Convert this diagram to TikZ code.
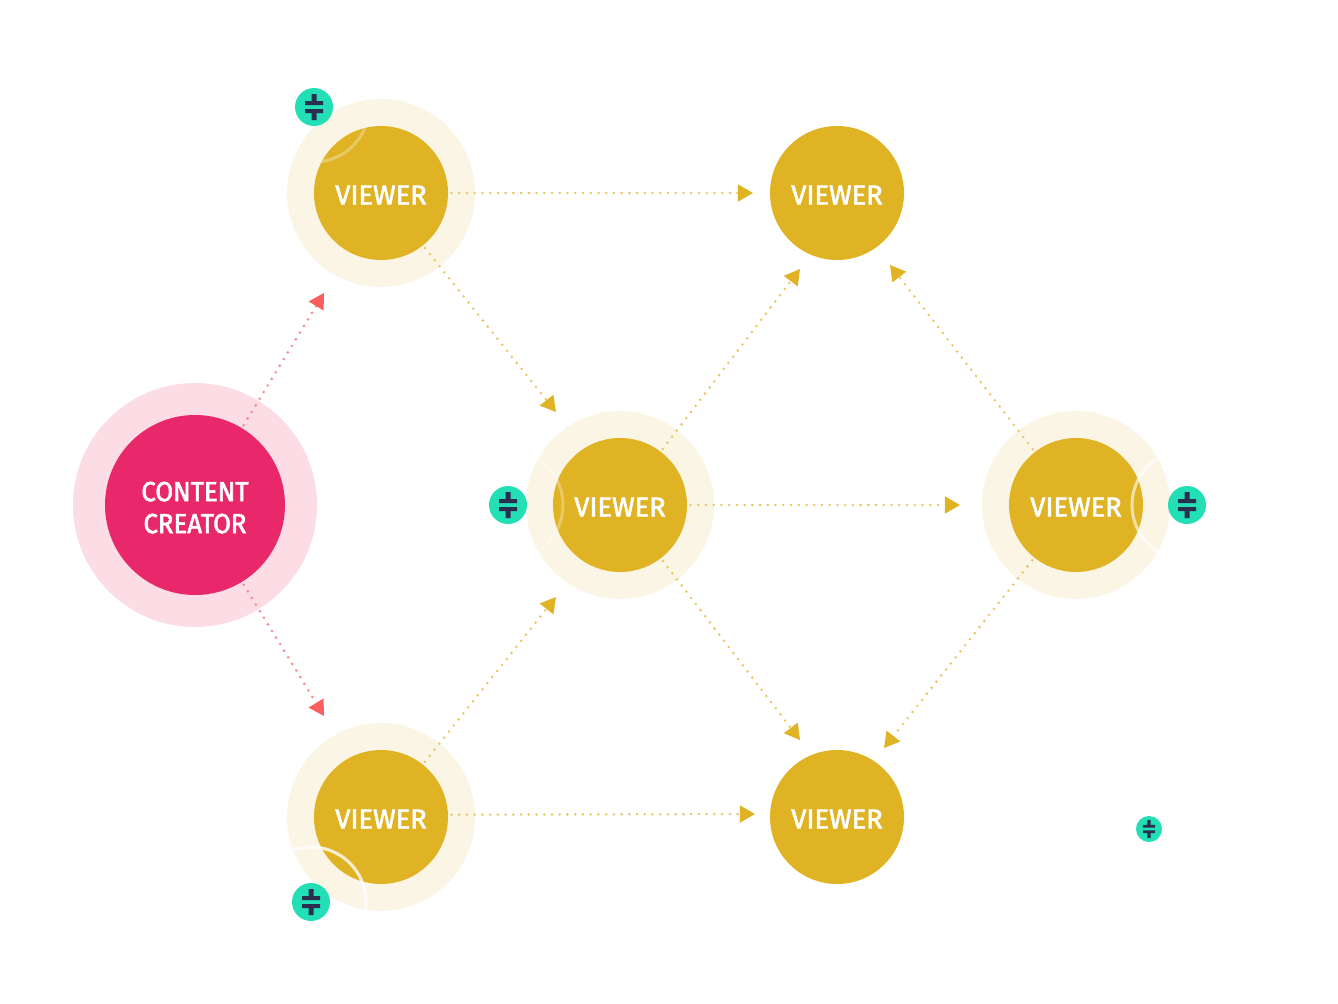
\documentclass[tikz,border=0pt]{standalone}
\usepackage{fontspec}
\setmainfont{Fira Sans}
\newfontfamily\lab[FakeBold=2.2]{Fira Sans}
\newfontfamily\labc[FakeBold=2.2,FakeStretch=0.93]{Fira Sans}
\usetikzlibrary{arrows.meta}
\definecolor{gold}{HTML}{DFB324}
\definecolor{golddot}{HTML}{E9C65E}
\definecolor{goldhalo}{HTML}{FBF5E6}
\definecolor{rose}{HTML}{E8286B}
\definecolor{rosehalo}{HTML}{FCDDE6}
\definecolor{redtip}{HTML}{F8605F}
\definecolor{reddot}{HTML}{F98585}
\definecolor{teal}{HTML}{22DFB6}
\definecolor{navy}{HTML}{2B2F4F}
\newcommand\tokensym[2]{\fill[navy,shift={(#1.center)},scale=#2]
  (-9,-6) rectangle (9,-2) (-9,2) rectangle (9,6)
  (-2.5,-13) rectangle (2.5,-6) (-2.5,6) rectangle (2.5,13);}
\tikzset{
  halo/.style={circle,inner sep=0pt,outer sep=0pt,fill=goldhalo,minimum size=5.64cm},
  viewer/.style={circle,inner sep=0pt,outer sep=0pt,fill=gold,minimum size=4.02cm,text=white,
    font=\fontsize{23.3}{27}\selectfont\lab,text height=19.5pt,text depth=0pt},
  creator/.style={circle,inner sep=0pt,outer sep=0pt,fill=rose,minimum size=5.4cm,text=white,align=center,
    font=\fontsize{23.6}{27.3}\selectfont\labc,text height=48pt,text depth=0pt},
  creatorhalo/.style={circle,inner sep=0pt,outer sep=0pt,fill=rosehalo,minimum size=7.32cm},
  token/.style={circle,inner sep=0pt,outer sep=0pt,fill=teal,minimum size=1.14cm},
  smalltoken/.style={circle,inner sep=0pt,outer sep=0pt,fill=teal,minimum size=.78cm},
  conn/.style={draw=golddot,line width=2.4pt,line cap=round,dash pattern=on 0pt off 6.6pt,
    -{Triangle[length=13pt,width=15pt,color=gold,fill=gold,line width=0pt]},shorten <=3pt},
  redconn/.style={draw=reddot,line width=2.4pt,line cap=round,dash pattern=on 0pt off 6.6pt,
    -{Triangle[length=13pt,width=15pt,color=redtip,fill=redtip,line width=0pt]},shorten <=3pt},
  glint/.style={draw=white,line width=2.6pt}
}
\begin{document}
\begin{tikzpicture}[x=0.03cm,y=-0.03cm]
\useasboundingbox (0,0) rectangle (1338,1004);
% halos
\node[creatorhalo] (hP) at (195,505) {};
\node[halo] (hA) at (381,193) {};
\node[halo] (hC) at (620,505) {};
\node[halo] (hD) at (1076,505) {};
\node[halo] (hE) at (381,817) {};
% main nodes
\node[creator] (P) at (195,505) {CONTENT\\CREATOR};
\node[viewer] (A) at (381,193) {VIEWER};
\node[viewer] (B) at (837,193) {VIEWER};
\node[viewer] (C) at (620,505) {VIEWER};
\node[viewer] (D) at (1076,505) {VIEWER};
\node[viewer] (E) at (381,817) {VIEWER};
\node[viewer] (F) at (837,817) {VIEWER};
% tokens
\node[token] (t1) at (314,107) {};
\node[token] (t2) at (508,505) {};
\node[token] (t3) at (1187,505) {};
\node[token] (t4) at (311,902) {};
\node[smalltoken] (t5) at (1149,829) {};
\tokensym{t1}{1}\tokensym{t2}{1}\tokensym{t3}{1}\tokensym{t4}{1}\tokensym{t5}{.68}
% glints
\begin{scope}[opacity=.3]\clip (A) circle (67);\draw[glint] (t1) circle (55);\end{scope}
\begin{scope}[opacity=.3]\clip (hC) circle (94);\draw[glint] (t2) circle (55);\end{scope}
\begin{scope}[opacity=.6]\clip (hD) circle (94);\draw[glint] (t3) circle (55);\end{scope}
\begin{scope}[opacity=.8]\clip (hE) circle (94);\draw[glint] (t4) circle (55);\end{scope}
% connector ends
\coordinate (tAB) at (753,193);
\coordinate (tAC) at (556,412);
\coordinate (tCB) at (800,269);
\coordinate (tDB) at (890,265);
\coordinate (tCD) at (960,505);
\coordinate (tCF) at (800,740);
\coordinate (tDF) at (884,748);
\coordinate (tEC) at (556,597);
\coordinate (tEF) at (755,814);
\coordinate (tPA) at (324,293);
\coordinate (tPE) at (324,716);
\draw[conn] (A) -- (tAB);
\draw[conn] (A) -- (tAC);
\draw[conn] (C) -- (tCB);
\draw[conn] (D) -- (tDB);
\draw[conn] (C) -- (tCD);
\draw[conn] (C) -- (tCF);
\draw[conn] (D) -- (tDF);
\draw[conn] (E) -- (tEC);
\draw[conn] (E.2.5) -- (tEF);
\draw[redconn] (P) -- (tPA);
\draw[redconn] (P) -- (tPE);
\end{tikzpicture}
\end{document}
